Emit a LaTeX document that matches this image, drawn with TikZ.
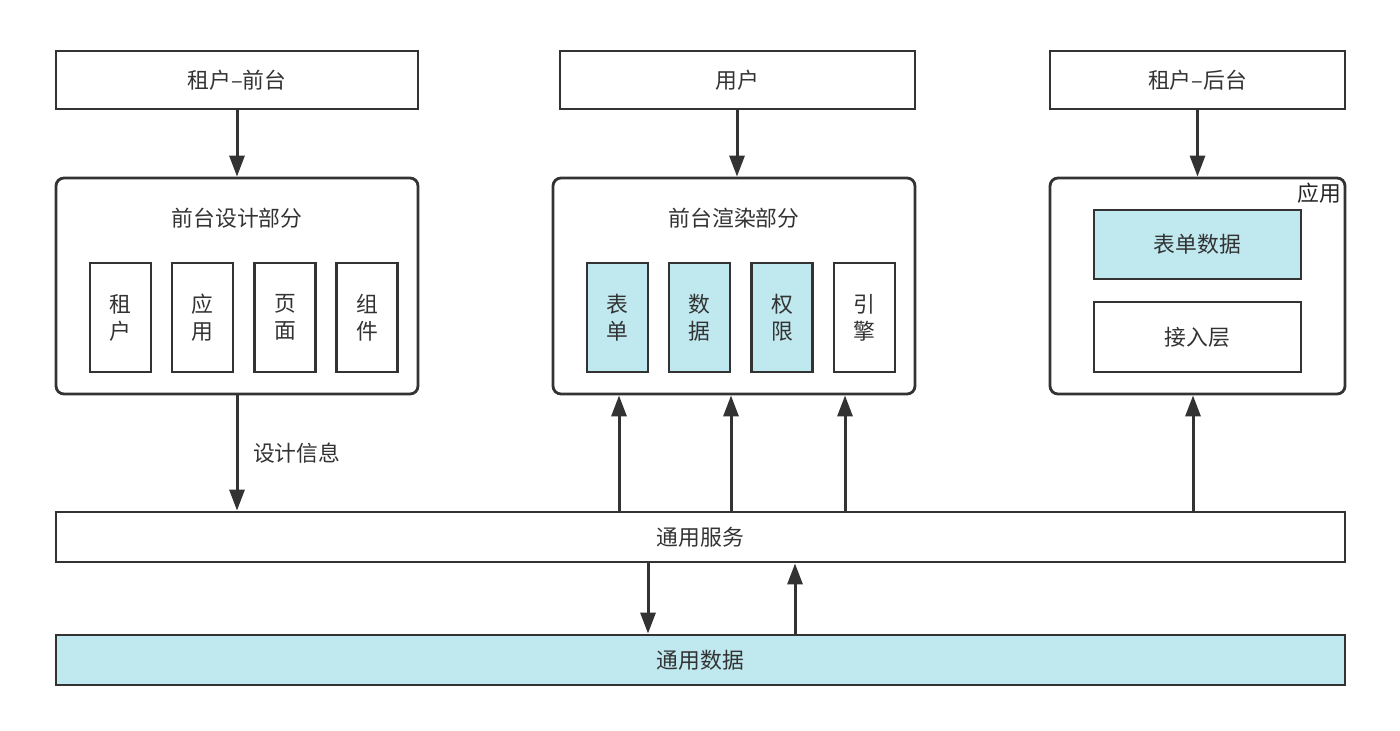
\documentclass[tikz,border=0pt]{standalone}
\usepackage{fontspec}
\setmainfont{Noto Sans CJK SC}
\usetikzlibrary{arrows.meta}
\definecolor{ln}{HTML}{333333}
\definecolor{cy}{HTML}{BFE8EF}
\begin{document}
\begin{tikzpicture}[x=0.5pt,y=-0.5pt,
  font=\fontsize{10.9pt}{13.5pt}\selectfont,
  box/.style={draw=ln,line width=1.4pt,fill=white,inner sep=0pt,text=black!80},
  rbox/.style={box,rounded corners=4pt},
  cbox/.style={box,fill=cy},
  arr/.style={draw=ln,line width=1.5pt,-{Triangle[length=10.5pt,width=7.5pt]}}]
\useasboundingbox[fill=white] (0,0) rectangle (1400,730);
% top boxes
\node[box,minimum width=181pt,minimum height=29pt] (tf) at (237,80) {租户–前台};
\node[box,minimum width=177.5pt,minimum height=29pt] (user) at (737.5,80) {用户};
\node[box,minimum width=147.5pt,minimum height=29pt] (tb) at (1197.5,80) {租户–后台};
% containers
\node[rbox,minimum width=181pt,minimum height=108pt] (design) at (237,286) {};
\node[text=black!80] (dtitle) at (237,218) {前台设计部分};
\node[rbox,minimum width=181pt,minimum height=108pt] (render) at (734,286) {};
\node[text=black!80] (rtitle) at (734,218) {前台渲染部分};
\node[rbox,minimum width=147.5pt,minimum height=108pt] (app) at (1197.5,286) {};
\node[anchor=north east,inner xsep=2.5pt,inner ysep=3pt,text=black!85] (applbl) at (app.north east) {应用};
% inner design boxes
\tikzset{ib/.style={box,minimum width=30.5pt,minimum height=54.5pt,align=center}}
\node[ib] (d1) at (120.5,317.5) {租\\户};
\node[ib] (d2) at (202.5,317.5) {应\\用};
\node[ib] (d3) at (285,317.5) {页\\面};
\node[ib] (d4) at (367,317.5) {组\\件};
\node[ib,fill=cy] (r1) at (617.5,317.5) {表\\单};
\node[ib,fill=cy] (r2) at (699.5,317.5) {数\\据};
\node[ib,fill=cy] (r3) at (782,317.5) {权\\限};
\node[ib] (r4) at (864.5,317.5) {引\\擎};
% app inner
\node[cbox,minimum width=103.5pt,minimum height=34.5pt] (form) at (1197.5,244.5) {表单数据};
\node[box,minimum width=103.5pt,minimum height=35pt] (access) at (1197.5,337) {接入层};
% bottom bars
\node[box,minimum width=644.5pt,minimum height=25pt] (svc) at (700.5,537) {通用服务};
\node[cbox,minimum width=644.5pt,minimum height=25pt] (data) at (700.5,660) {通用数据};
% arrows
\draw[arr] (tf) -- (design);
\draw[arr] (user.south -| 737,0) -- (render.north -| 737,0);
\draw[arr] (tb) -- (app);
\draw[arr] (design) -- node[right=4pt,text=black!80] {设计信息} (svc.north -| design.south);
\draw[arr] (svc.north -| 619,0) -- (render.south -| 619,0);
\draw[arr] (svc.north -| 731,0) -- (render.south -| 731,0);
\draw[arr] (svc.north -| 845,0) -- (render.south -| 845,0);
\draw[arr] (svc.north -| 1193,0) -- (app.south -| 1193,0);
\draw[arr] (svc.south -| 648,0) -- (data.north -| 648,0);
\draw[arr] (data.north -| 795,0) -- (svc.south -| 795,0);
\end{tikzpicture}
\end{document}
